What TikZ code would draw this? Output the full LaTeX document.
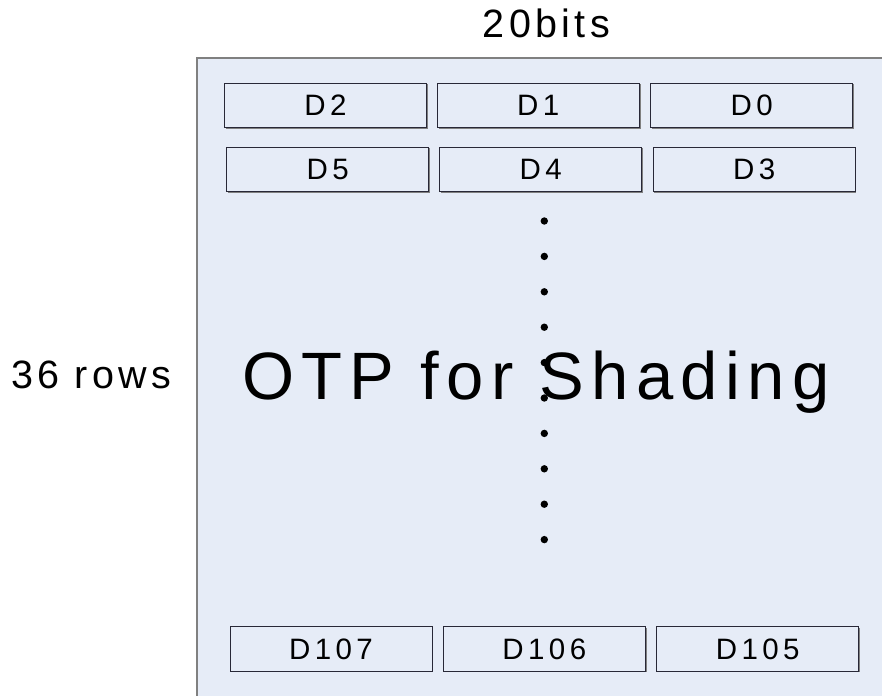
\documentclass[tikz,border=0pt]{standalone}
\usepackage{fontspec}
\usetikzlibrary{shadows}
\setmainfont{Liberation Sans}
\newfontfamily\cellfont[LetterSpace=15]{Liberation Sans}
\newfontfamily\capfont[LetterSpace=11]{Liberation Sans}
\definecolor{otpfill}{RGB}{230,236,247}
\definecolor{otpline}{RGB}{128,128,128}
\definecolor{cellline}{RGB}{40,40,55}
\begin{document}
\begin{tikzpicture}[x=1pt,y=-1pt,caption/.style={inner sep=0pt,font=\capfont\fontsize{39.5}{40}\selectfont}]
	\tikzstyle{every node}=[inner sep=0pt]
	\tikzstyle{cell}=[draw=cellline,line width=1pt,fill=otpfill,minimum width=202pt,minimum height=44.5pt,general shadow={fill=otpline,shadow xshift=1.2pt,shadow yshift=-1.2pt},font=\cellfont\fontsize{29.5}{30}\selectfont]
	\useasboundingbox (0,0) rectangle (882,695);
	\draw[fill=otpfill,draw=otpline,line width=2pt] (197,58) rectangle (900,710);
	\node[caption,anchor=base] (bits) at (546.5,37.7) {20bits};
	\node[caption,anchor=base west] (rows) at (11,388.3) {36 rows};
	\node[anchor=base west,font=\capfont\fontsize{67}{68}\selectfont] (title) at (242,399) {OTP for Shading};
	% first rows
	\node[cell] (d2) at (325.5,105.5) {D2};
	\node[cell] (d1) at (538.3,105.5) {D1};
	\node[cell] (d0) at (751.8,105.5) {D0};
	\node[cell] (d5) at (327.8,169.5) {D5};
	\node[cell] (d4) at (540.8,169.5) {D4};
	\node[cell] (d3) at (754.2,169.5) {D3};
	% last row
	\node[cell] (d107) at (331,649) {D107};
	\node[cell] (d106) at (544.3,649) {D106};
	\node[cell] (d105) at (757.7,649) {D105};
	\foreach \k in {0,...,9}
		\fill (544.3,221+35.4*\k) circle (3.7pt);
\end{tikzpicture}
\end{document}
